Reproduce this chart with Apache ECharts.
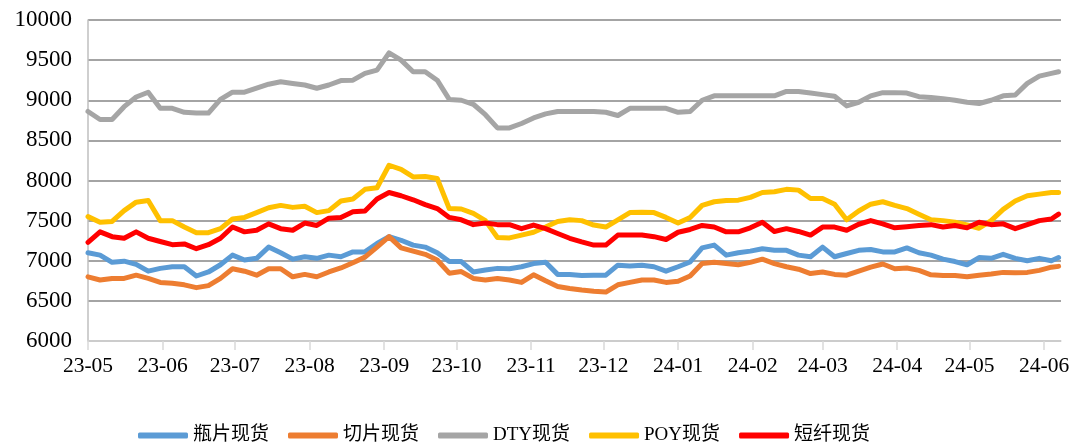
<!DOCTYPE html>
<html>
<head>
<meta charset="utf-8">
<script src="https://cdn.jsdelivr.net/npm/echarts@6/dist/echarts.min.js"></script>
<style>
html,body{margin:0;padding:0;background:#fff;}
#c{width:1078px;height:446px;}
</style>
</head>
<body>
<div id="c"></div>
<script>
const dates = [
'2023-05-01','2023-05-06','2023-05-11','2023-05-16','2023-05-21','2023-05-26','2023-05-31',
'2023-06-05','2023-06-10','2023-06-15','2023-06-20','2023-06-25','2023-06-30',
'2023-07-05','2023-07-10','2023-07-15','2023-07-20','2023-07-25','2023-07-30',
'2023-08-04','2023-08-09','2023-08-14','2023-08-19','2023-08-24','2023-08-29',
'2023-09-03','2023-09-08','2023-09-13','2023-09-18','2023-09-23','2023-09-28',
'2023-10-03','2023-10-08','2023-10-13','2023-10-18','2023-10-23','2023-10-28',
'2023-11-02','2023-11-07','2023-11-12','2023-11-17','2023-11-22','2023-11-27',
'2023-12-02','2023-12-07','2023-12-12','2023-12-17','2023-12-22','2023-12-27',
'2024-01-01','2024-01-06','2024-01-11','2024-01-16','2024-01-21','2024-01-26','2024-01-31',
'2024-02-05','2024-02-10','2024-02-15','2024-02-20','2024-02-25',
'2024-03-01','2024-03-06','2024-03-11','2024-03-16','2024-03-21','2024-03-26','2024-03-31',
'2024-04-05','2024-04-10','2024-04-15','2024-04-20','2024-04-25','2024-04-30',
'2024-05-05','2024-05-10','2024-05-15','2024-05-20','2024-05-25','2024-05-30',
'2024-06-04','2024-06-07'
];
const bottleChip = [
7100,7070,6980,6995,6955,6870,6905,6925,6925,6810,6860,6950,7070,
7010,7030,7170,7100,7020,7050,7030,7070,7050,7110,7110,7215,
7300,7255,7195,7170,7100,6990,6990,6860,6885,6905,6900,6925,
6965,6980,6830,6830,6815,6820,6820,6945,6935,6945,6925,6870,
6925,6985,7160,7195,7070,7100,7120,7150,7130,7130,7070,7050,
7170,7050,7090,7130,7140,7110,7110,7160,7100,7070,7020,6990,6950,
7040,7030,7080,7030,7000,7030,7000,7040
];
const fiberChip = [
6800,6760,6780,6780,6820,6780,6730,6720,6700,6665,6690,6780,6900,
6870,6820,6900,6900,6800,6830,6800,6860,6910,6975,7045,7170,
7300,7160,7120,7080,7010,6845,6865,6780,6760,6780,6760,6730,
6825,6750,6680,6655,6635,6620,6610,6700,6730,6760,6760,6730,
6745,6810,6965,6980,6965,6950,6980,7020,6965,6925,6895,6840,
6860,6830,6820,6870,6920,6960,6900,6910,6880,6825,6815,6815,6800,
6820,6835,6855,6850,6855,6880,6920,6930
];
const dty = [
8860,8760,8760,8920,9040,9100,8900,8900,8850,8840,8840,9010,9100,
9100,9150,9200,9230,9210,9190,9150,9190,9245,9250,9335,9375,
9590,9500,9355,9355,9250,9010,9000,8950,8820,8655,8655,8710,
8780,8830,8860,8860,8860,8860,8850,8810,8900,8900,8900,8900,
8850,8860,9000,9055,9055,9055,9055,9055,9055,9110,9110,9090,
9070,9050,8930,8975,9055,9095,9095,9090,9045,9035,9020,9000,8975,
8960,9000,9055,9065,9210,9300,9335,9355
];
const poy = [
7550,7480,7490,7625,7730,7750,7500,7500,7420,7350,7350,7400,7520,
7540,7600,7660,7690,7665,7680,7600,7625,7745,7770,7890,7910,
8190,8140,8045,8050,8025,7650,7645,7590,7500,7290,7285,7320,
7355,7420,7490,7510,7500,7445,7420,7510,7600,7605,7600,7540,
7470,7540,7690,7735,7750,7755,7790,7850,7860,7890,7880,7775,
7775,7705,7510,7620,7705,7735,7690,7650,7580,7510,7500,7480,7445,
7405,7500,7640,7745,7810,7830,7850,7850
];
const staple = [
7230,7360,7300,7280,7360,7280,7240,7200,7210,7150,7200,7280,7420,
7360,7380,7460,7400,7380,7470,7440,7530,7540,7610,7620,7770,
7850,7810,7760,7700,7650,7540,7510,7450,7470,7450,7450,7400,
7445,7400,7340,7280,7235,7195,7195,7320,7320,7320,7300,7265,
7355,7390,7440,7420,7360,7360,7410,7480,7365,7400,7365,7320,
7420,7420,7380,7455,7500,7460,7410,7425,7440,7450,7420,7440,7410,
7480,7450,7460,7400,7450,7500,7520,7580
];
const seriesNames = ['瓶片现货','切片现货','DTY现货','POY现货','短纤现货'];
const seriesColors = ['#5B9BD5','#ED7D31','#A5A5A5','#FFC000','#FF0000'];
const monthTicks = ['2023-05-01','2023-06-01','2023-07-01','2023-08-01','2023-09-01','2023-10-01','2023-11-01','2023-12-01','2024-01-01','2024-02-01','2024-03-01','2024-04-01','2024-05-01','2024-06-01'];
const monthLabels = ['23-05','23-06','23-07','23-08','23-09','23-10','23-11','23-12','24-01','24-02','24-03','24-04','24-05','24-06'];

function ts(s){ const p = s.split('-').map(Number); return Date.UTC(p[0], p[1]-1, p[2]); }
const tickTs = monthTicks.map(ts);
const allValues = [bottleChip, fiberChip, dty, poy, staple];

const chart = echarts.init(document.getElementById('c'), null, {renderer:'canvas'});
const serif = "'Liberation Serif','Times New Roman','Noto Sans CJK SC',serif";
chart.setOption({
  animation: false,
  backgroundColor: '#fff',
  grid: {left: 88, top: 20, right: 17, bottom: 105, containLabel: false},
  xAxis: {
    type: 'value',
    min: ts('2023-05-01'),
    max: ts('2024-06-08'),
    axisLine: {show: true, onZero: false, lineStyle: {color: '#d9d9d9', width: 1.5}},
    axisTick: {show: true, length: 9, lineStyle: {color: '#d9d9d9', width: 1.5}, customValues: tickTs},
    axisLabel: {
      customValues: tickTs,
      color: '#000', fontSize: 21.5, fontFamily: serif, margin: 15,
      formatter: function(v){ const i = tickTs.indexOf(v); return i >= 0 ? monthLabels[i] : ''; }
    },
    splitLine: {show: false}
  },
  yAxis: {
    type: 'value', min: 6000, max: 10000, interval: 500,
    axisLine: {show: true, lineStyle: {color: '#bfbfbf', width: 1.5}},
    axisTick: {show: false},
    axisLabel: {color: '#000', fontSize: 23, fontFamily: serif, margin: 16,
      formatter: function(v){ return String(v); }},
    splitLine: {show: true, lineStyle: {color: '#868686', width: 1.5}}
  },
  legend: {
    top: 421, left: 133,
    itemWidth: 50, itemHeight: 6, itemGap: 19,
    icon: 'roundRect',
    textStyle: {color: '#000', fontSize: 19, fontFamily: serif},
    data: seriesNames
  },
  series: seriesNames.map((n, i) => ({
    name: n, type: 'line', showSymbol: false, symbol: 'none',
    data: dates.map((d, j) => [ts(d), allValues[i][j]]),
    lineStyle: {color: seriesColors[i], width: 5, cap: 'round', join: 'round'},
    itemStyle: {color: seriesColors[i]}
  }))
});
</script>
</body>
</html>
